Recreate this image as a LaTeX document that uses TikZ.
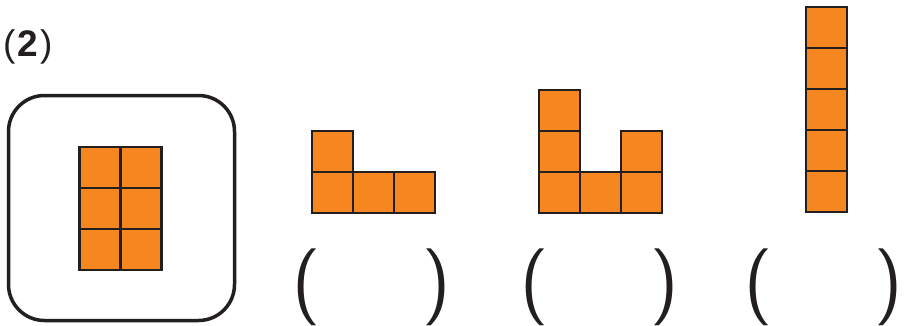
\documentclass[tikz,border=0pt]{standalone}
\usepackage{fontspec}
\setmainfont{Liberation Sans}
\usepackage{tikz}
\usetikzlibrary{positioning}

\definecolor{blockorange}{RGB}{246,134,31}
\definecolor{inkgray}{RGB}{35,31,32}

\begin{document}
\begin{tikzpicture}[
    x=1pt, y=-1pt,
    node distance=0pt and 0pt,
    cell/.style={rectangle, draw=inkgray, fill=blockorange, line width=2.2pt, minimum size=41pt, inner sep=0pt, outer sep=0pt},
    frame/.style={rectangle, draw=inkgray, line width=3.5pt, rounded corners=36pt, minimum width=226pt, minimum height=225pt},
    paren/.style={font=\sffamily\fontsize{77}{77}\selectfont, text=inkgray, inner sep=0pt}
]
    \useasboundingbox (0,0) rectangle (904,325);

    \node [font=\fontsize{37}{37}\selectfont, text=inkgray, anchor=west, inner sep=0pt] (label) at (3,47) {(\kern2pt\textbf{2}\kern2pt)};

    % given shape in the frame
    \node [frame] (box) at (121.5,208) {};
    \node [cell] (a1) at (100,167.5) {};
    \node [cell, right=of a1] (a2) {};
    \node [cell, below=of a1] (a3) {};
    \node [cell, right=of a3] (a4) {};
    \node [cell, below=of a3] (a5) {};
    \node [cell, right=of a5] (a6) {};

    % L shape
    \node [cell] (b1) at (332.5,151.5) {};
    \node [cell, below=of b1] (b2) {};
    \node [cell, right=of b2] (b3) {};
    \node [cell, right=of b3] (b4) {};

    % U shape
    \node [cell] (c1) at (559.5,110.5) {};
    \node [cell, below=of c1] (c2) {};
    \node [cell, below=of c2] (c3) {};
    \node [cell, right=of c3] (c4) {};
    \node [cell, right=of c4] (c5) {};
    \node [cell, above=of c5] (c6) {};

    % column
    \node [cell] (d1) at (826.5,27.5) {};
    \node [cell, below=of d1] (d2) {};
    \node [cell, below=of d2] (d3) {};
    \node [cell, below=of d3] (d4) {};
    \node [cell, below=of d4] (d5) {};

    % answer brackets
    \foreach \px/\nm in {372/p1, 600/p2, 824/p3} {
        \node [paren] (\nm l) at (\px-65,287) {(};
        \node [paren] (\nm r) at (\px+65,287) {)};
    }
\end{tikzpicture}
\end{document}
